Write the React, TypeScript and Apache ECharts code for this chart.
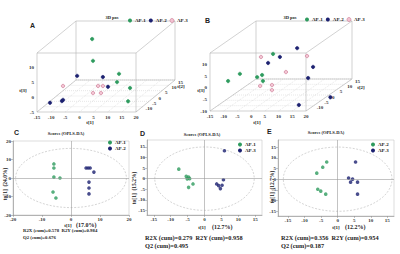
import React, { useEffect, useRef } from "react";
import * as echarts from "echarts";

const GREEN = "#2e9b5e";
const NAVY = "#1c2170";
const PINK = "#f3c4d3";
const PINK_EDGE = "#c7738f";
const FONT = '"Liberation Serif", "DejaVu Serif", serif';
const SANS = '"Liberation Sans", Arial, sans-serif';

// ---- Panel A: 3D scores, rows are [t1, t2, t3]
const A_AP1 = [[-4.7, 5, 12.5], [-4.4, 5, 5.1], [4.8, 5, 0.7], [4.1, 5, -2.1], [11, 0, -2.3], [12.6, -5, -5]];
const A_AP2 = [[-12.3, 10, -1.8], [-3.2, 10, -2.2], [0.9, 5, -3.7], [-12.7, -10, -3.7], [-8.5, -10, -3.1], [-8.1, -10, -2.7]];
const A_AP3 = [[-12.7, 0, -1.6], [-2.6, 5, -3.4], [-0.9, 5, -3.4], [-2.1, 0, -4], [0.7, 0, -4]];

// ---- Panel B: 3D scores [t1, t2, t3]
const B_AP1 = [[-0.4, 0, 7.7], [-11.2, -10, 0.6], [-6.9, -10, 3.7], [-3.4, -5, 0], [-1.6, -5, 0.9], [-1.3, -5, -1.7]];
const B_AP2 = [[-5, 5, 1.5], [-0.7, 5, 4.1], [2.8, 10, 5.6], [8.6, 10, -2.5], [6.8, 10, -7.3], [20.5, 0, -11], [14.6, -10, -9.7]];
const B_AP3 = [[-7.6, 5, 4.1], [6.4, 10, 2.2], [1.5, 5, -2.4], [-2.3, -5, -3.8], [2, -5, -3.4], [2, -5, -5.6]];

// ---- Panels C, D, E: OPLS-DA scores [t1, to1]
const C_AP1 = [[-5.9, 7.6], [-5.9, 5.4], [-5.9, 0.5], [-3.8, 0], [-6.2, -7.6], [-5.2, -10.8]];
const C_AP2 = [[5.2, 5.4], [5.9, 5.4], [6.6, 5.4], [7.9, 3.2], [6.2, -2.2], [6.2, -5.4], [6.2, -8.6]];
const D_AP1 = [[-7.6, 4.5], [-5.4, 1.1], [-4.7, 0.8], [-5.1, -0.1], [-4.4, 0], [-3.4, -2.5], [-4.7, -4.1]];
const D_AP3 = [[5.9, 13.2], [5.6, -0.5], [3.6, -2.5], [4.2, -3.3], [5.2, -3.1], [4.7, -4.7]];
const E_AP2 = [[-3.3, 8.0], [-4.5, 5.6], [-6.3, 2.8], [-6.0, -4.7], [-5.1, -5.6], [-3.6, -7.0]];
const E_AP3 = [[5.4, 8.0], [3.3, 0.5], [4.5, 0], [3.9, -1.4], [6.0, -1.4], [6.0, -7.0]];

// Hotelling ellipse semi-axes [t1, to1]
const C_ELLIPSE = [19.1, 16];
const D_ELLIPSE = [14.7, 15];
const E_ELLIPSE = [16.4, 15];

// tick labels
const T1_TICKS_3D = [-15, -10, -5, 0, 5, 10, 15, 20];
const T2_TICKS_3D = [-10, -5, 0, 5, 10, 15];
const TICKS_15 = [-15, -10, -5, 0, 5, 10, 15];
const TICKS_20 = [-20, -10, 0, 10, 20];

// texts
const STATS_C = ["R2X (cum)=0.578  R2Y (cum)=0.984", "Q2 (cum)=0.676"];
const STATS_D = ["R2X (cum)=0.279  R2Y (cum)=0.958", "Q2 (cum)=0.495"];
const STATS_E = ["R2X (cum)=0.356  R2Y (cum)=0.954", "Q2 (cum)=0.187"];
const XPCT = ["(17.0%)", "(12.7%)", "(12.2%)"];
const YTITLES = ["to[1]  (24.0%)", "to[1]  (15.2%)", "to[1]  (12.7%)"];

type Cfg = { xr: number[]; yr: number[]; zr: number[]; dx: number; dy: number };
const CFG_A: Cfg = { xr: [-15, 20], yr: [-5, 15], zr: [-15, 15], dx: 39, dy: -32 };
const CFG_B: Cfg = { xr: [-15, 20], yr: [-10, 15], zr: [-15, 15], dx: 46, dy: -32 };

const txt = (text: string, x: number, y: number, size: number, opts: any = {}) => ({
  type: "text",
  x,
  y,
  rotation: opts.rotation || 0,
  silent: true,
  style: {
    text,
    fill: opts.color || "#222",
    fontSize: size,
    fontFamily: opts.family || FONT,
    fontWeight: opts.weight || "bold",
    textAlign: opts.align || "left",
    align: opts.align || "left",
    textVerticalAlign: "middle",
    verticalAlign: "middle",
  },
});

function makeBox(cfg: Cfg) {
  return (_params: any, api: any) => {
    const P = (x: number, z: number, y: number) => {
      const c = api.coord([x, y]);
      const f = (z - cfg.zr[0]) / (cfg.zr[1] - cfg.zr[0]);
      return [c[0] + f * cfg.dx, c[1] + f * cfg.dy];
    };
    const children: any[] = [];
    const line = (a: number[], b: number[], stroke: string, dash?: number[]) =>
      children.push({
        type: "line",
        shape: { x1: a[0], y1: a[1], x2: b[0], y2: b[1] },
        style: dash ? { stroke, lineWidth: 0.5, lineDash: dash } : { stroke, lineWidth: 0.6 },
      });
    const [x0, x1] = cfg.xr;
    const [y0, y1] = cfg.yr;
    const [z0, z1] = cfg.zr;
    T1_TICKS_3D.forEach((x) => line(P(x, z0, y0), P(x, z1, y0), "#cfcfcf", [1, 1]));
    T2_TICKS_3D.forEach((z) => line(P(x0, z, y0), P(x1, z, y0), "#cfcfcf", [1, 1]));
    for (const z of [z0, z1]) {
      for (const y of [y0, y1]) line(P(x0, z, y), P(x1, z, y), "#b3b3b3");
      for (const x of [x0, x1]) line(P(x, z, y0), P(x, z, y1), "#b3b3b3");
    }
    for (const x of [x0, x1]) for (const y of [y0, y1]) line(P(x, z0, y), P(x, z1, y), "#b3b3b3");
    T2_TICKS_3D.forEach((z) => {
      const p = P(x1, z, y0);
      children.push({
        type: "text",
        x: p[0] + 3,
        y: p[1] + 2,
        style: {
          text: String(z),
          fill: "#333",
          fontSize: 5,
          fontFamily: FONT,
          fontWeight: "bold",
          textAlign: "left",
          align: "left",
          textVerticalAlign: "middle",
          verticalAlign: "middle",
        },
      });
    });
    return { type: "group", children };
  };
}

function makePoints(cfg: Cfg, fill: string, stroke: string) {
  return (_params: any, api: any) => {
    const c = api.coord([api.value(0), api.value(2)]);
    const f = (api.value(1) - cfg.zr[0]) / (cfg.zr[1] - cfg.zr[0]);
    return {
      type: "circle",
      shape: { cx: c[0] + f * cfg.dx, cy: c[1] + f * cfg.dy, r: 1.7 },
      style: { fill, stroke, lineWidth: 0.6 },
    };
  };
}

function renderEllipse(_params: any, api: any) {
  const c = api.coord([0, 0]);
  const s = api.size([api.value(0), api.value(1)]);
  return {
    type: "ellipse",
    shape: { cx: c[0], cy: c[1], rx: s[0], ry: s[1] },
    style: { fill: "none", stroke: "#b8b8b8", lineWidth: 0.6, lineDash: [2, 1.5] },
  };
}

const labelStyle = { fontSize: 5, color: "#333", fontFamily: FONT, fontWeight: "bold" as const };

function axis3D(gridIndex: number, range: number[], isY: boolean) {
  return {
    gridIndex,
    type: "value",
    min: range[0],
    max: range[1],
    interval: 5,
    axisLine: { show: false },
    axisTick: { show: false },
    splitLine: { show: false },
    axisLabel: { ...labelStyle, margin: 3, showMaxLabel: !isY },
  };
}

function axis2D(gridIndex: number, min: number, max: number, ticks: number[]) {
  return {
    gridIndex,
    type: "value",
    min,
    max,
    axisLine: { show: true, onZero: false, lineStyle: { color: "#8a8a8a", width: 0.6 } },
    axisTick: { show: true, length: 2, customValues: ticks, lineStyle: { color: "#8a8a8a", width: 0.5 } },
    splitLine: { show: false },
    axisLabel: { ...labelStyle, margin: 2, customValues: ticks },
  };
}

function pts3D(name: string, data: number[][], idx: number, cfg: Cfg, fill: string, stroke: string) {
  return {
    name,
    type: "custom",
    xAxisIndex: idx,
    yAxisIndex: idx,
    dimensions: ["t1", "t2", "t3"],
    encode: { x: 0, y: 2 },
    data,
    z: 3,
    renderItem: makePoints(cfg, fill, stroke),
  };
}

function scatter(name: string, data: number[][], idx: number, color: string, zeroLines: boolean) {
  const s: any = {
    name,
    type: "scatter",
    xAxisIndex: idx,
    yAxisIndex: idx,
    data,
    symbolSize: 3.6,
    itemStyle: { color },
    z: 3,
  };
  if (zeroLines) {
    s.markLine = {
      silent: true,
      symbol: ["none", "none"],
      label: { show: false },
      lineStyle: { color: "#9a9a9a", width: 0.6, type: "solid" },
      data: [{ xAxis: 0 }, { yAxis: 0 }],
    };
  }
  return s;
}

function ellipse(semi: number[], idx: number) {
  return {
    type: "custom",
    xAxisIndex: idx,
    yAxisIndex: idx,
    data: [semi],
    silent: true,
    z: 2,
    renderItem: renderEllipse,
  };
}

function legend(left: number, top: number, vertical: boolean, items: any[]) {
  return {
    left,
    top,
    orient: vertical ? "vertical" : "horizontal",
    itemWidth: 4,
    itemHeight: 4,
    itemGap: vertical ? 1 : 3,
    padding: 0,
    selectedMode: false,
    textStyle: { fontSize: 5, fontFamily: FONT, fontWeight: "bold", color: "#222", padding: [0, 0, 0, -2] },
    data: items,
  };
}

const LG1 = { name: "AP-1", icon: "circle", itemStyle: { color: GREEN } };
const LG2 = { name: "AP-2", icon: "circle", itemStyle: { color: NAVY } };
const LG3 = { name: "AP-3", icon: "circle", itemStyle: { color: PINK, borderColor: PINK_EDGE, borderWidth: 0.6 } };

const option: any = {
  animation: false,
  backgroundColor: "#fff",
  grid: [
    { left: 37, top: 53, width: 99, height: 59 },
    { left: 210, top: 53, width: 96, height: 58 },
    { left: 13, top: 141, width: 116, height: 74, show: true, borderColor: "#b8b8b8", borderWidth: 0.5 },
    { left: 147, top: 140, width: 115, height: 75, show: true, borderColor: "#b8b8b8", borderWidth: 0.5 },
    { left: 278, top: 140, width: 116, height: 76, show: true, borderColor: "#b8b8b8", borderWidth: 0.5 },
  ],
  xAxis: [
    axis3D(0, CFG_A.xr, false),
    axis3D(1, CFG_B.xr, false),
    axis2D(2, -20, 20, TICKS_20),
    axis2D(3, -17, 17, TICKS_15),
    axis2D(4, -18, 17, TICKS_15),
  ],
  yAxis: [
    axis3D(0, CFG_A.yr, true),
    axis3D(1, CFG_B.yr, true),
    axis2D(2, -20, 20, TICKS_20),
    axis2D(3, -17.2, 18.3, TICKS_15),
    axis2D(4, -17.2, 18.3, TICKS_15),
  ],
  legend: [
    legend(128, 18, false, [LG1, LG2, LG3]),
    legend(305, 17, false, [LG1, LG2, LG3]),
    legend(108, 140, true, [LG1, LG2]),
    legend(238, 142, true, [LG1, { ...LG2, name: "AP-3" }]),
    legend(371, 142, true, [{ ...LG1, name: "AP-2" }, { ...LG2, name: "AP-3" }]),
  ],
  series: [
    { type: "custom", xAxisIndex: 0, yAxisIndex: 0, data: [[0, 0]], silent: true, z: 1, renderItem: makeBox(CFG_A) },
    pts3D("AP-1", A_AP1, 0, CFG_A, GREEN, GREEN),
    pts3D("AP-2", A_AP2, 0, CFG_A, NAVY, NAVY),
    pts3D("AP-3", A_AP3, 0, CFG_A, PINK, PINK_EDGE),
    { type: "custom", xAxisIndex: 1, yAxisIndex: 1, data: [[0, 0]], silent: true, z: 1, renderItem: makeBox(CFG_B) },
    pts3D("AP-1", B_AP1, 1, CFG_B, GREEN, GREEN),
    pts3D("AP-2", B_AP2, 1, CFG_B, NAVY, NAVY),
    pts3D("AP-3", B_AP3, 1, CFG_B, PINK, PINK_EDGE),
    ellipse(C_ELLIPSE, 2),
    scatter("AP-1", C_AP1, 2, GREEN, true),
    scatter("AP-2", C_AP2, 2, NAVY, false),
    ellipse(D_ELLIPSE, 3),
    scatter("AP-1", D_AP1, 3, GREEN, true),
    scatter("AP-3", D_AP3, 3, NAVY, false),
    ellipse(E_ELLIPSE, 4),
    scatter("AP-2", E_AP2, 4, GREEN, true),
    scatter("AP-3", E_AP3, 4, NAVY, false),
  ],
  graphic: [
    txt("A", 30, 25, 7, { family: SANS }),
    txt("B", 205, 20, 7, { family: SANS }),
    txt("C", 14, 132, 7, { family: SANS }),
    txt("D", 140, 133, 7, { family: SANS }),
    txt("E", 267, 131, 7, { family: SANS }),
    txt("3D pos", 112, 17, 4.5, { align: "center" }),
    txt("3D pos", 290, 17, 4.5, { align: "center" }),
    txt("t[3]", 23, 90, 5, { align: "center" }),
    txt("t[3]", 201, 90, 5, { align: "center" }),
    txt("t[1]", 90, 122, 5, { align: "center" }),
    txt("t[1]", 257, 122, 5, { align: "center" }),
    txt("t[2]", 181, 86, 5, { align: "center" }),
    txt("t[2]", 361, 87, 5, { align: "center" }),
    txt("Scores (OPLS-DA)", 66, 133, 4.5, { align: "center" }),
    txt("Scores (OPLS-DA)", 202, 134, 4.5, { align: "center" }),
    txt("Scores (OPLS-DA)", 326, 132, 4.5, { align: "center" }),
    txt("t[1]", 68, 225, 5, { align: "center" }),
    txt(XPCT[0], 76, 225, 6),
    txt("t[1]", 202, 227, 5, { align: "center" }),
    txt(XPCT[1], 212, 227, 6),
    txt("t[1]", 336, 227, 5, { align: "center" }),
    txt(XPCT[2], 345, 227, 6),
    txt(YTITLES[0], 5, 184, 5.5, { align: "center", rotation: Math.PI / 2 }),
    txt(YTITLES[1], 134, 188, 5.5, { align: "center", rotation: Math.PI / 2 }),
    txt(YTITLES[2], 272, 187, 5.5, { align: "center", rotation: Math.PI / 2 }),
    txt(STATS_C[0], 23, 230, 4.8),
    txt(STATS_C[1], 23, 237, 4.8),
    txt(STATS_D[0], 145, 237, 6.3),
    txt(STATS_D[1], 145, 245, 6.3),
    txt(STATS_E[0], 281, 237, 6.3),
    txt(STATS_E[1], 281, 245, 6.3),
  ],
};

export default function App() {
  const ref = useRef<HTMLDivElement>(null);
  useEffect(() => {
    if (!ref.current) return;
    const chart = echarts.init(ref.current, null, { renderer: "svg" });
    chart.setOption(option);
    return () => chart.dispose();
  }, []);
  return (
    <div
      ref={ref}
      style={{ position: "absolute", left: 0, top: 0, width: 400, height: 254, background: "#fff" }}
    />
  );
}
